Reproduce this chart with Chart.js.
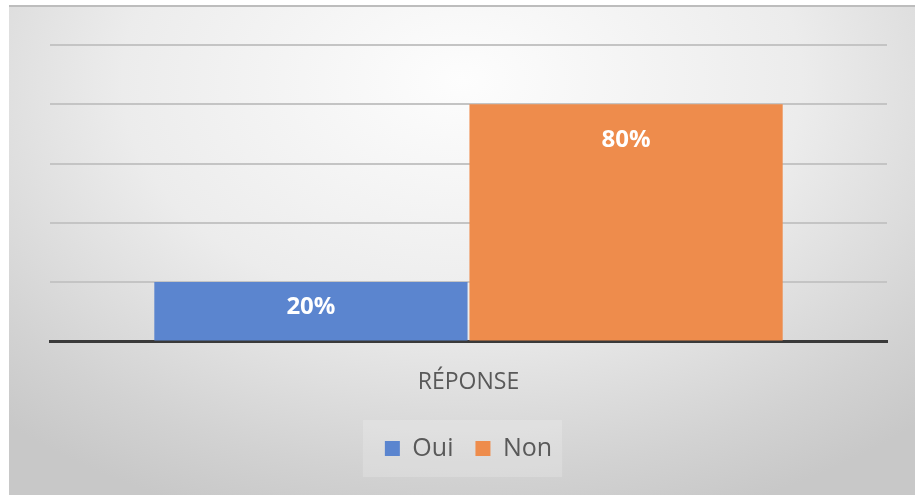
<!DOCTYPE html>
<html lang="fr">
<head>
    <meta charset="UTF-8">
    <title>Réponse</title>
    <script src="https://cdn.jsdelivr.net/npm/chart.js"></script>
    <style>
        html, body {
            margin: 0;
            padding: 0;
            background: #ffffff;
            width: 915px;
            height: 495px;
            overflow: hidden;
        }
        #frame {
            position: absolute;
            left: 9px;
            top: 5px;
            width: 906px;
            height: 490px;
            border-top: 2px solid #bdbdbd;
            box-sizing: border-box;
            background: radial-gradient(ellipse 75% 95% at 50% 15%, #fdfdfd 0%, #ececec 50%, #d2d2d2 85%, #c8c8c8 100%);
        }
        #chart {
            position: absolute;
            left: 0;
            top: -2px;
        }
    </style>
</head>
<body>
    <div id="frame">
        <canvas id="chart" width="906" height="490"></canvas>
    </div>

    <script>
        // categories and series (in %)
        const categories = ['RÉPONSE'];
        const seriesNames = ['Oui', 'Non'];
        const ouiValues = [20];
        const nonValues = [80];
        const seriesColors = ['#5b85cf', '#ee8c4c'];

        // light box behind the legend, like the Excel one
        const legendBox = {
            id: 'legendBox',
            beforeDraw(chart) {
                const boxes = chart.legend.legendHitBoxes;
                if (!boxes || !boxes.length) return;
                const first = boxes[0];
                const last = boxes[boxes.length - 1];
                const c = chart.ctx;
                c.save();
                c.fillStyle = 'rgba(255,255,255,0.18)';
                c.fillRect(first.left - 22, first.top - 16, (last.left + last.width) - first.left + 32, first.height + 32);
                c.restore();
            }
        };

        // value labels inside the bars (inside end, or centred when the bar is short)
        const barLabels = {
            id: 'barLabels',
            afterDatasetsDraw(chart) {
                const c = chart.ctx;
                c.save();
                c.fillStyle = '#ffffff';
                c.font = 'bold 24px "Open Sans", sans-serif';
                c.textAlign = 'center';
                c.textBaseline = 'middle';
                chart.data.datasets.forEach((ds, i) => {
                    chart.getDatasetMeta(i).data.forEach((bar, j) => {
                        const y = Math.min(bar.y + 36, (bar.y + bar.base) / 2 - 4);
                        c.fillText(ds.data[j] + '%', bar.x, y);
                    });
                });
                c.restore();
            }
        };

        new Chart(document.getElementById('chart'), {
            type: 'bar',
            data: {
                labels: categories,
                datasets: [
                    { label: seriesNames[0], data: ouiValues, backgroundColor: seriesColors[0] },
                    { label: seriesNames[1], data: nonValues, backgroundColor: seriesColors[1] }
                ]
            },
            options: {
                responsive: false,
                animation: false,
                layout: {
                    padding: { left: 41, right: 28, top: 40, bottom: 24 }
                },
                datasets: {
                    bar: {
                        categoryPercentage: 0.753,
                        barPercentage: 0.994,
                        borderWidth: 0
                    }
                },
                scales: {
                    x: {
                        grid: { display: false, drawTicks: false },
                        border: { display: true, color: '#3a3a3a', width: 3 },
                        ticks: {
                            color: '#595959',
                            padding: 27,
                            font: { family: '"Open Sans", sans-serif', size: 23 }
                        },
                        afterFit(scale) {
                            scale.height -= 9;
                        }
                    },
                    y: {
                        min: 0,
                        max: 100,
                        ticks: { display: false, stepSize: 20 },
                        grid: { color: '#c4c4c4', lineWidth: 2, drawTicks: false },
                        border: { display: false }
                    }
                },
                plugins: {
                    tooltip: { enabled: false },
                    legend: {
                        position: 'bottom',
                        labels: {
                            color: '#595959',
                            boxWidth: 15,
                            boxHeight: 15,
                            padding: 22,
                            font: { family: '"Open Sans", sans-serif', size: 25 }
                        }
                    }
                }
            },
            plugins: [legendBox, barLabels]
        });
    </script>
</body>
</html>
